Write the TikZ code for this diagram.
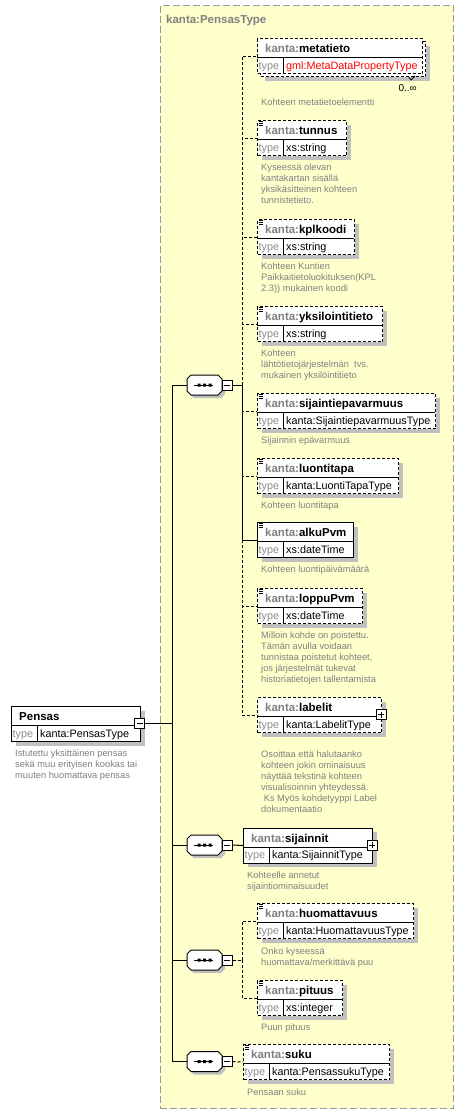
\documentclass[tikz,border=0pt]{standalone}
\usepackage{fontspec}
\setmainfont{Liberation Sans}
\definecolor{yel}{HTML}{FFFFCC}
\definecolor{bordg}{HTML}{999999}
\definecolor{shadc}{HTML}{C0C0C0}
\definecolor{pfx}{HTML}{808080}
\definecolor{descc}{HTML}{808080}
\definecolor{typl}{HTML}{8C8C8C}
\definecolor{redt}{HTML}{FF0000}
\newif\ifshad \shadtrue
\newcommand\hfont{\fontsize{11.5}{13}\selectfont\bfseries}
\newcommand\tfont{\fontsize{10.8}{12}\selectfont}
\newcommand\dfont{\fontsize{9.3}{11}\selectfont}
\newcommand\kp{\textcolor{pfx}{kanta:}}
\tikzset{
  dl/.style={line width=1pt, dash pattern=on 3pt off 2pt},
  sl/.style={line width=1pt},
  dbox/.style={dash pattern=on 3pt off 2pt},
  sbox/.style={},
  ebox/.style={draw=black,line width=1pt,fill=white,inner sep=0pt,anchor=north west,minimum height=35pt},
  htxt/.style={inner sep=0pt,anchor=base west,font=\hfont},
  ttxt/.style={inner sep=0pt,anchor=base west,font=\tfont},
  dtxt/.style={inner sep=0pt,anchor=north west,align=left,font=\dfont,text=descc},
  pm/.style={draw=black,fill=white,line width=1pt,minimum size=10pt,inner sep=0pt},
}
% #1 name, #2 x, #3 top, #4 width, #5 border style, #6 header, #7 type, #8 icon, #9 type colour
\newcommand\elm[9]{%
  \ifshad\fill[shadc] ({#2+4.5},{#3+4.5}) rectangle ++(#4,35);\fi
  \node[ebox,#5,minimum width=#4pt] (#1) at (#2,#3) {};
  \draw[sl] (#2,{#3+19.5}) -- ++(#4,0);
  \draw[sl] ({#2+26},{#3+19.5}) -- ++(0,15.5);
  \node[htxt] (#1-h) at ({#2+8},{#3+14.5}) {#6};
  \node[ttxt,text=typl] (#1-l) at ({#2+1.5},{#3+31}) {type};
  \node[ttxt,text=#9] (#1-v) at ({#2+29},{#3+31}) {#7};
  \ifnum#8=1 \draw[line width=0.8pt] ({#2+1.5},{#3+1.5}) -- ++(4.5,0) ({#2+1.5},{#3+3.5}) -- ++(4.5,0) ({#2+1.5},{#3+5.5}) -- ++(4.5,0);\fi
}
% #1 name, #2 centre y
\newcommand\comp[2]{%
  \fill[shadc,shift={(3,3)}] (191,{#2-10}) -- (218,{#2-10}) -- (222,{#2-6}) -- (222,{#2+6}) -- (218,{#2+10}) -- (191,{#2+10}) -- (187,{#2+6}) -- (187,{#2-6}) -- cycle;
  \filldraw[fill=white,draw=black,sl] (191,{#2-10}) -- (218,{#2-10}) -- (222,{#2-6}) -- (222,{#2+6}) -- (218,{#2+10}) -- (191,{#2+10}) -- (187,{#2+6}) -- (187,{#2-6}) -- cycle;
  \coordinate (#1) at (187,#2);
  \draw[sl] (194,#2) -- (213,#2);
  \fill (197.5,{#2-1.5}) rectangle ++(3,3) (203,{#2-1.5}) rectangle ++(3,3) (208.5,{#2-1.5}) rectangle ++(3,3);
  \node[pm] (#1m) at (227,#2) {};
  \draw[sl] (224,#2) -- (230,#2);
}
\begin{document}
\begin{tikzpicture}[x=1pt,y=-1pt]
\useasboundingbox (0,0) rectangle (463,1114);
\fill[white] (0,0) rectangle (463,1114);
% complex type box
\node[draw=bordg,fill=yel,dash pattern=on 7pt off 3pt,line width=1.2pt,anchor=north west,minimum width=293.5pt,minimum height=1103pt,inner sep=0pt] (ptype) at (159.5,5) {};
\node[htxt,text=pfx] (ptitle) at (166,23) {kanta:PensasType};

% root element
\elm{pensas}{11}{706}{129}{sbox}{Pensas}{kanta:PensasType}{0}{black}
\node[pm] (rootm) at (139.5,723.5) {};
\draw[sl] (136.5,723.5) -- (142.5,723.5);
\node[dtxt] (pensas-d) at (15,748.5) {\rule{0pt}{7.5pt}Istutettu yksittäinen pensas\\sekä muu erityisen kookas tai\\muuten huomattava pensas};

% compositors
\comp{c1}{385}
\comp{c2}{845}
\comp{c3}{960}
\comp{c4}{1061.5}
\coordinate (tr1) at (172,385);
\coordinate (tr4) at (172,1061.5);
\coordinate (s1) at (242,385);
\coordinate (s3) at (242,960);
\draw[sl] (c1) -- (tr1) -- (tr4) -- (c4);
\draw[sl] (c2) -- (c2 -| tr1);
\draw[sl] (c3) -- (c3 -| tr1);
\draw[sl] (rootm.east) -- (rootm.east -| tr1);

% metatieto (multiple)
\fill[shadc] (264.5,45.5) rectangle ++(165,35);
\node[ebox,dbox,minimum width=165pt] (metaback) at (260,41) {};
\shadfalse
\elm{metatieto}{257}{38}{165}{dbox}{\kp metatieto}{gml:MetaDataPropertyType}{0}{redt}
\shadtrue
\draw[line width=0.8pt] (408,76) -- (411,80) -- (415,76);
\node[ttxt,anchor=base east,font=\fontsize{10}{12}\selectfont] (metamult) at (417,91) {0..∞};
\node[dtxt] (metatieto-d) at (261,97.5) {\rule{0pt}{7.5pt}Kohteen metatietoelementti};

\elm{tunnus}{257}{120}{89}{dbox}{\kp tunnus}{xs:string}{1}{black}
\node[dtxt] (tunnus-d) at (261,162.5) {\rule{0pt}{7.5pt}Kyseessä olevan\\kantakartan sisällä\\yksikäsitteinen kohteen\\tunnistetieto.};

\elm{kplkoodi}{257}{219}{97}{dbox}{\kp kplkoodi}{xs:string}{1}{black}
\node[dtxt] (kplkoodi-d) at (261,261.5) {\rule{0pt}{7.5pt}Kohteen Kuntien\\Paikkaitietoluokituksen(KPL\\2.3)) mukainen koodi};

\elm{yksil}{257}{306}{125}{dbox}{\kp yksilointitieto}{xs:string}{1}{black}
\node[dtxt] (yksil-d) at (261,348.5) {\rule{0pt}{7.5pt}Kohteen\\lähtötietojärjestelmän\ \ tvs.\\mukainen yksilöintitieto};

\elm{sijep}{257}{393}{178}{dbox}{\kp sijaintiepavarmuus}{kanta:SijaintiepavarmuusType}{1}{black}
\node[dtxt] (sijep-d) at (261,435.5) {\rule{0pt}{7.5pt}Sijainnin epävarmuus};

\elm{luontitapa}{257}{458}{141}{dbox}{\kp luontitapa}{kanta:LuontiTapaType}{1}{black}
\node[dtxt] (luontitapa-d) at (261,500.5) {\rule{0pt}{7.5pt}Kohteen luontitapa};

\elm{alkupvm}{257}{522}{96}{sbox}{\kp alkuPvm}{xs:dateTime}{1}{black}
\node[dtxt] (alkupvm-d) at (261,564.5) {\rule{0pt}{7.5pt}Kohteen luontipäivämäärä};

\elm{loppupvm}{257}{588}{105}{dbox}{\kp loppuPvm}{xs:dateTime}{1}{black}
\node[dtxt] (loppupvm-d) at (261,630.5) {\rule{0pt}{7.5pt}Milloin kohde on poistettu.\\Tämän avulla voidaan\\tunnistaa poistetut kohteet,\\jos järjestelmät tukevat\\historiatietojen tallentamista};

\elm{labelit}{257}{697}{124}{dbox}{\kp labelit}{kanta:LabelitType}{0}{black}
\node[pm] (labelitp) at (381,714.5) {};
\draw[sl] (378,714.5) -- (384,714.5) (381,711.5) -- (381,717.5);
\node[dtxt] (labelit-d) at (261,749.5) {\rule{0pt}{7.5pt}Osoittaa että halutaanko\\kohteen jokin ominaisuus\\näyttää tekstinä kohteen\\visualisoinnin yhteydessä.\\\hspace*{2.6pt}Ks Myös kohdetyyppi Label\\dokumentaatio};

\elm{sijainnit}{243}{827.5}{129}{sbox}{\kp sijainnit}{kanta:SijainnitType}{0}{black}
\node[pm] (sijainnitp) at (372,845) {};
\draw[sl] (369,845) -- (375,845) (372,842) -- (372,848);
\node[dtxt] (sijainnit-d) at (247,871) {\rule{0pt}{7.5pt}Kohteelle annetut\\sijaintiominaisuudet};

\elm{huom}{257}{903}{156}{dbox}{\kp huomattavuus}{kanta:HuomattavuusType}{1}{black}
\node[dtxt] (huom-d) at (261,946.5) {\rule{0pt}{7.5pt}Onko kyseessä\\huomattava/merkittävä puu};

\elm{pituus}{257}{980}{85}{dbox}{\kp pituus}{xs:integer}{1}{black}
\node[dtxt] (pituus-d) at (261,1022.5) {\rule{0pt}{7.5pt}Puun pituus};

\elm{suku}{243}{1044}{146}{dbox}{\kp suku}{kanta:PensassukuType}{1}{black}
\node[dtxt] (suku-d) at (247,1087.5) {\rule{0pt}{7.5pt}Pensaan suku};

% connectors of first sequence
\draw[sl] (c1m.east) -- (s1);
\draw[dl] (s1) |- (metatieto.west);
\draw[dl] (s1) |- (tunnus.west);
\draw[dl] (s1) |- (kplkoodi.west);
\draw[dl] (s1) |- (yksil.west);
\draw[dl] (s1) |- (sijep.west);
\draw[dl] (s1) |- (luontitapa.west);
\draw[dl] (s1) |- (loppupvm.west);
\draw[dl] (s1) |- (labelit.west);
\draw[sl] (s1) |- (alkupvm.west);
% second
\draw[sl] (c2m.east) -- (sijainnit.west);
% third
\draw[dl] (c3m.east) -- (s3);
\draw[dl] (s3) |- (huom.west);
\draw[dl] (s3) |- (pituus.west);
% fourth
\draw[dl] (c4m.east) -- (suku.west);
\end{tikzpicture}
\end{document}
